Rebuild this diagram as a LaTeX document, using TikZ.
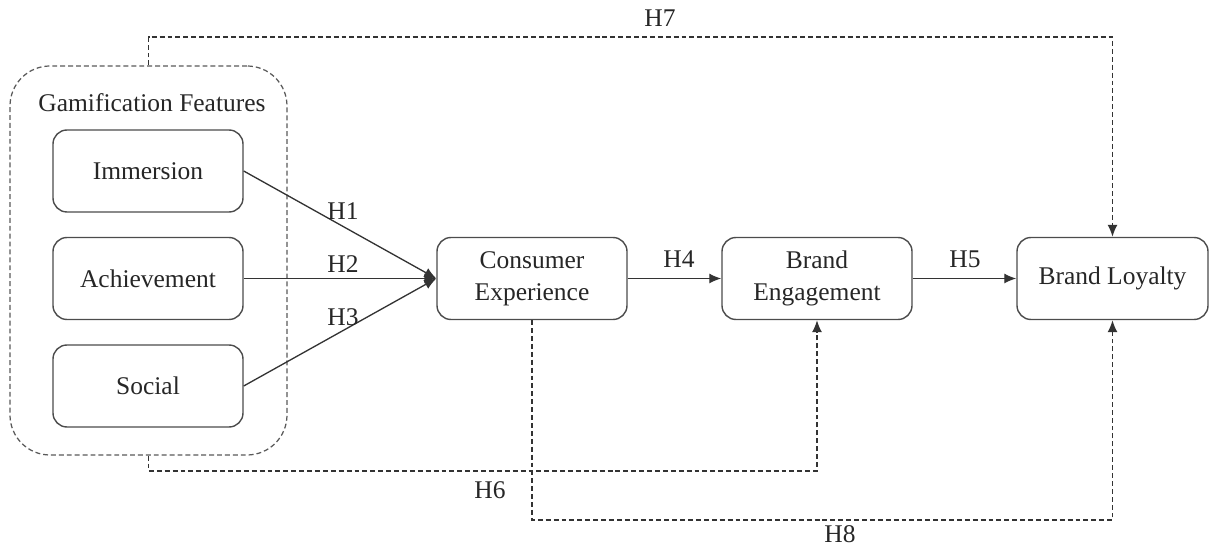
\documentclass[tikz,border=0pt]{standalone}
\usepackage{fontspec}
\setmainfont{Liberation Serif}
\usetikzlibrary{arrows.meta}

\begin{document}
\begin{tikzpicture}[
    font=\fontsize{14.5}{18}\selectfont,
    box/.style={draw=black!70, line width=0.8pt, rounded corners=0.28cm,
        minimum width=3.8cm, minimum height=1.64cm, align=center, text=black!85},
    group/.style={draw=black!65, line width=0.7pt, dash pattern=on 2.8pt off 1.7pt,
        rounded corners=0.8cm, minimum width=5.54cm, minimum height=7.78cm},
    link/.style={draw=black!80, line width=0.75pt, -{Latex[length=0.24cm,width=0.2cm]}},
    dlink/.style={link, dash pattern=on 2.8pt off 1.7pt},
    hlabel/.style={text=black!85}
]
    \useasboundingbox (0,0) rectangle (24.3,10.94);
    % gamification group
    \node[group] (grp) at (2.97,5.73) {};
    \node[hlabel] (gname) at (3.04,8.88) {Gamification Features};
    \node[box] (im) at (2.96,7.52) {Immersion};
    \node[box] (ach) at (2.96,5.37) {Achievement};
    \node[box] (soc) at (2.96,3.22) {Social};
    % main chain
    \node[box] (ce) at (10.64,5.37) {Consumer\\Experience};
    \node[box] (be) at (16.34,5.37) {Brand\\Engagement};
    \node[box, minimum width=3.82cm] (bl) at (22.25,5.37) {Brand Loyalty};
    % direct paths
    \draw[link] (im.east) -- (ce.west);
    \draw[link] (ach.east) -- (ce.west);
    \draw[link] (soc.east) -- (ce.west);
    \draw[link] (ce.east) -- (be.west);
    \draw[link] (be.east) -- (bl.west);
    \node[hlabel] (h1) at (6.86,6.72) {H1};
    \node[hlabel] (h2) at (6.86,5.66) {H2};
    \node[hlabel] (h3) at (6.86,4.60) {H3};
    \node[hlabel] (h4) at (13.58,5.76) {H4};
    \node[hlabel] (h5) at (19.30,5.76) {H5};
    % dashed paths
    \coordinate (top) at (2.97,10.2);
    \coordinate (low) at (2.97,1.52);
    \coordinate (bot) at (22.25,0.54);
    \draw[dlink] (grp.north) -- (top) -| (bl.north);
    \draw[dlink] (grp.south) -- (low) -| (be.south);
    \draw[dlink] (ce.south) |- (bot) -- (bl.south);
    \node[hlabel] (h7) at (13.2,10.58) {H7};
    \node[hlabel] (h6) at (9.8,1.14) {H6};
    \node[hlabel] (h8) at (16.8,0.26) {H8};
\end{tikzpicture}
\end{document}
